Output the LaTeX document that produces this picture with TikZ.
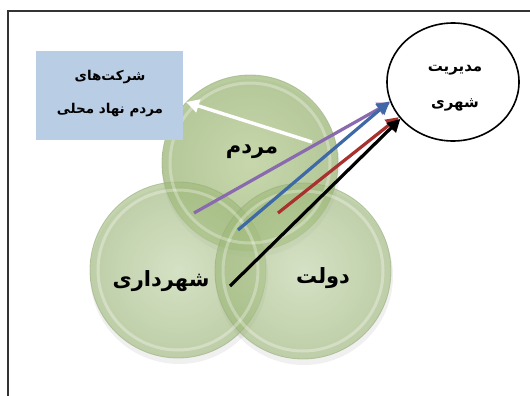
\documentclass[tikz,border=0pt]{standalone}
\usepackage{fontspec}
\newfontfamily\fa[Script=Arabic]{DejaVu Sans}
\TeXXeTstate=1
\usetikzlibrary{shapes.geometric,arrows.meta}
\definecolor{boxblue}{HTML}{B9CDE5}
\definecolor{ringgreen}{HTML}{9FB97E}
\definecolor{innergreen}{HTML}{C4D8A8}
\definecolor{outergreen}{HTML}{9DB878}
\definecolor{topinner}{HTML}{B2CB88}
\definecolor{topouter}{HTML}{94B26A}
\definecolor{apurple}{HTML}{8A6AAE}
\definecolor{ablue}{HTML}{3E68A6}
\definecolor{ared}{HTML}{A8302E}
\tikzset{
  ball/.style={circle, minimum size=176pt, inner sep=0pt, draw=ringgreen!80!gray, line width=0.8pt,
     inner color=innergreen, outer color=outergreen, fill opacity=0.6, draw opacity=0.6},
  topball/.style={ball, inner color=topinner, outer color=topouter, fill opacity=0.65},
  lbl/.style={font=\fa\bfseries\fontsize{21}{24}\selectfont},
  conn/.style={line width=3.2pt, -{Triangle[length=13pt,width=13pt]}},
  fatext/.style={font=\fa\bfseries\fontsize{13.5}{33}\selectfont, align=center},
  fatextb/.style={font=\fa\bfseries\fontsize{15}{36}\selectfont, align=center},
}
\begin{document}
\begin{tikzpicture}[x=1pt,y=-1pt]
\useasboundingbox (0,0) rectangle (530,396);
\fill[white] (0,0) rectangle (530,396);
\draw[line width=1.6pt, black!80] (8,396) -- (8,11) -- (530,11);
% soft shadows
\foreach \x/\y in {250/163,178/270,303/271}{
  \fill[black, opacity=0.06] (\x+1,\y+5) circle (89pt);
}
% circles
\node[topball] (mardom) at (250,163) {};
\node[ball] (shahrdari) at (178,270) {};
\node[ball] (dolat) at (303,271) {};
\foreach \n in {mardom,shahrdari,dolat}{
  \draw[white, opacity=0.3, line width=3pt] (\n) circle (80pt);
}
\node[lbl] (lmardom) at (252,152) {\beginR مردم\endR};
\node[lbl] (lshahr) at (161,281) {\beginR شهرداری\endR};
\node[lbl] (ldolat) at (323,278) {\beginR دولت\endR};
% box
\node[fill=boxblue, minimum width=147pt, minimum height=89pt, inner sep=0pt] (box) at (109.5,95.5) {};
\node[fatext] (boxt) at (110,94) {\beginR شرکت‌های\endR\\\beginR مردم نهاد محلی\endR};
% ellipse
\node[ellipse, draw, line width=1.6pt, fill=white, minimum width=132pt, minimum height=118pt] (mng) at (453,82) {};
\node[fatextb] (mngt) at (455,88) {\beginR مدیریت\endR\\\beginR شهری\endR};
% connectors
\coordinate (ws) at (312,142);
\coordinate (we) at (186,102);
\coordinate (ps) at (194,213);
\coordinate (bs) at (238,230);
\coordinate (rs) at (278,213);
\coordinate (ks) at (230,286);
\draw[conn, white, line width=3.4pt] (ws) -- (we);
\draw[conn, apurple] (ps) -- (mng.198);
\draw[conn, ablue] (bs) -- (mng.197);
\draw[conn, ared] (rs) -- (mng.213);
\draw[conn, black] (ks) -- (mng.215);
\end{tikzpicture}
\end{document}
